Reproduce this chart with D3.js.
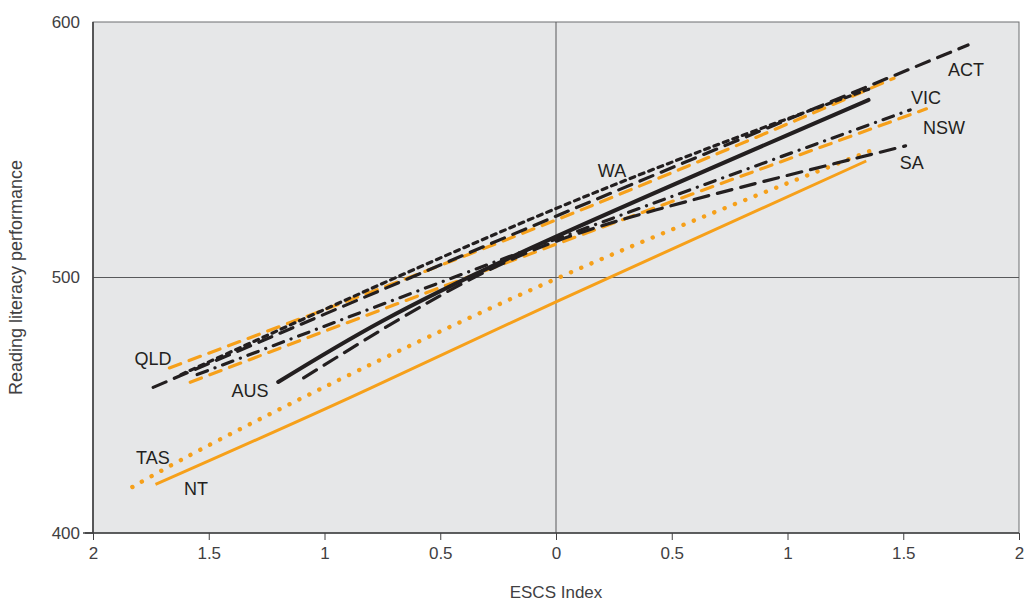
<!DOCTYPE html>
<html><head><meta charset="utf-8">
<script src="https://cdn.jsdelivr.net/npm/d3@7"></script>
<style>body{margin:0;background:#fff}svg{display:block}text{font-family:"Liberation Sans",Arial,sans-serif}</style>
</head><body><svg id="c" width="1028" height="604"></svg>
<script>
// ESCS index sample points (x) and reading performance (y)
const seriesNames = ["NT","TAS","NSW","QLD","SA","VIC","WA","ACT","AUS"];
const NT  = [[-1.73,419],[-0.89,453],[0,490.5],[1.34,545.6]];
const TAS = [[-1.83,418],[-1.27,445],[0,499.5],[1.39,550.7]];
const NSW = [[-1.58,459],[0,513],[1.6,566]];
const QLD = [[-1.67,464.6],[0,522.5],[1.46,578]];
const SA  = [[-1.09,460.7],[-0.315,501.8],[0.43,526.4],[1.51,551.5]];
const VIC = [[-1.55,462],[0,515],[1.53,565.6]];
const WA  = [[-1.62,462],[0,527],[1.36,574]];
const ACT = [[-1.74,457],[0,524],[1.78,591]];
const AUS = [[-1.2,459.1],[-0.75,483],[0,516],[1.35,569.5]];
const labels = [["QLD",-1.741,465.8],["AUS",-1.322,453.3],["TAS",-1.741,427.1],["NT",-1.555,415.0],
  ["WA",0.242,539.3],["ACT",1.771,578.9],["VIC",1.598,568.0],["NSW",1.676,556.2],["SA",1.537,542.5]];
const xTicks = [-2,-1.5,-1,-0.5,0,0.5,1,1.5,2];
const yTicks = [400,500,600];

const ORANGE="#f6a01a", BLACK="#231f20";
const styles = {
  NT:{c:ORANGE,w:3,d:null,cap:"butt"},
  TAS:{c:ORANGE,w:4.4,d:"0.1,11",cap:"round"},
  NSW:{c:ORANGE,w:3.2,d:"12,9",cap:"round"},
  QLD:{c:ORANGE,w:3.2,d:"12,9",cap:"round"},
  SA:{c:BLACK,w:3.2,d:"15,9",cap:"round"},
  VIC:{c:BLACK,w:3.2,d:"11,8,0.1,8",cap:"round"},
  WA:{c:BLACK,w:3.2,d:"5,5",cap:"round"},
  ACT:{c:BLACK,w:3.2,d:"14,9",cap:"round"},
  AUS:{c:BLACK,w:4,d:null,cap:"round"}
};
const data = {NT,TAS,NSW,QLD,SA,VIC,WA,ACT,AUS};

const svg = d3.select("#c");
const L=93,R=1019,T=22,B=533;
const x = d3.scaleLinear().domain([-2,2]).range([L,R]);
const y = d3.scaleLinear().domain([400,600]).range([B,T]);

svg.append("rect").attr("x",L).attr("y",T).attr("width",R-L).attr("height",B-T)
  .attr("fill","#e6e7e8").attr("stroke","#6d6e70").attr("stroke-width",1);
svg.append("line").attr("x1",x(0)).attr("x2",x(0)).attr("y1",T).attr("y2",B).attr("stroke","#58595b").attr("stroke-width",1);
svg.append("line").attr("x1",L).attr("x2",R).attr("y1",y(500)).attr("y2",y(500)).attr("stroke","#58595b").attr("stroke-width",1);

const line = d3.line().x(d=>x(d[0])).y(d=>y(d[1])).curve(d3.curveNatural);
const g = svg.append("g");
seriesNames.forEach(n=>{
  const s=styles[n];
  g.append("path").datum(data[n]).attr("d",line).attr("fill","none")
    .attr("stroke",s.c).attr("stroke-width",s.w).attr("stroke-linecap",s.cap)
    .attr("stroke-dasharray",s.d);
});

const xAxis = svg.append("g").attr("transform",`translate(0,${B})`)
  .call(d3.axisBottom(x).tickValues(xTicks).tickFormat(d=>String(Math.abs(d))).tickSize(7).tickPadding(7));
const yAxis = svg.append("g").attr("transform",`translate(${L},0)`)
  .call(d3.axisLeft(y).tickValues(yTicks).tickSize(0).tickPadding(13));
[xAxis,yAxis].forEach(a=>{
  a.select(".domain").attr("stroke","#414042").attr("stroke-width",1.6);
  a.selectAll(".tick line").attr("stroke","#414042");
  a.selectAll("text").attr("font-size",17).attr("fill","#414042").attr("font-family","'Liberation Sans',Arial,sans-serif");
});
yAxis.select(".domain").attr("d",`M0,${T}V${B}`);
xAxis.select(".domain").attr("d",`M${L-10},0H${R}`);
svg.append("line").attr("x1",L-8).attr("x2",L).attr("y1",B).attr("y2",B).attr("stroke","#414042").attr("stroke-width",1.6);
yAxis.selectAll(".tick text").attr("dy","0.32em");

svg.append("text").attr("x",x(0)).attr("y",598).attr("text-anchor","middle")
  .attr("font-size",17).attr("fill","#414042").text("ESCS Index");
svg.append("text").attr("transform",`translate(22,${y(500)}) rotate(-90)`).attr("text-anchor","middle")
  .attr("font-size",18).attr("fill","#414042").text("Reading literacy performance");

svg.append("g").selectAll("text").data(labels).join("text")
  .attr("x",d=>x(d[1])).attr("y",d=>y(d[2])).attr("text-anchor","middle")
  .attr("font-size",18).attr("fill",BLACK).text(d=>d[0]);
</script></body></html>
